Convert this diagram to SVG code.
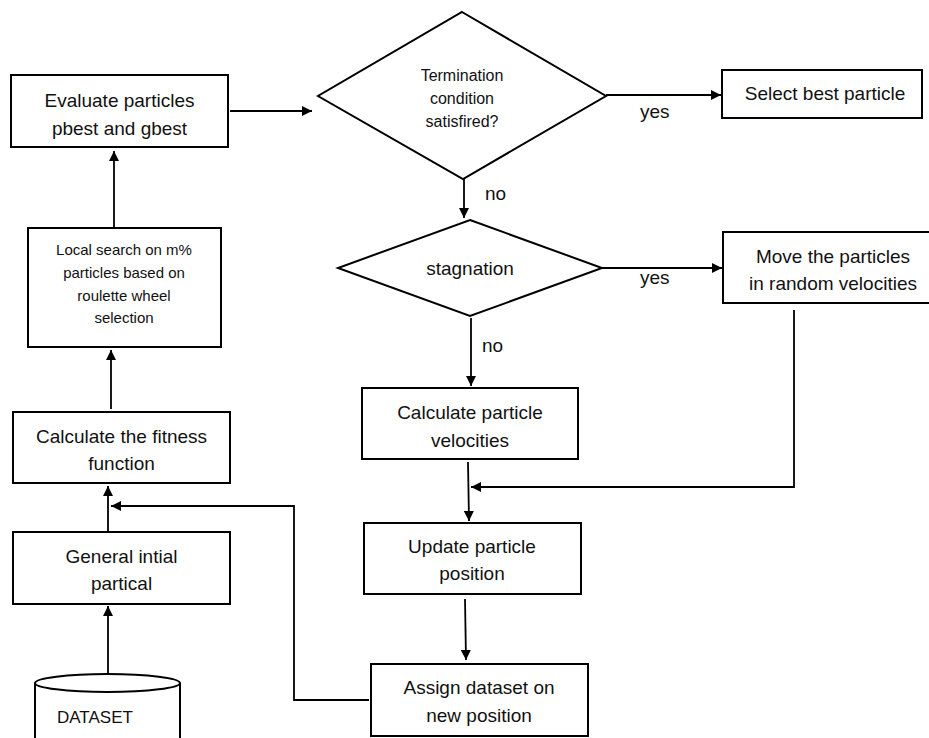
<svg xmlns="http://www.w3.org/2000/svg" width="929" height="738" viewBox="0 0 929 738">
<style>
  .box { fill: #fff; stroke: #000; stroke-width: 2; }
  .t { font-family: "Liberation Sans", Arial, sans-serif; font-size: 19px; fill: #111; text-anchor: middle; }
  .s { font-size: 15px; }
  .d { font-size: 16px; }
  .lbl { font-family: "Liberation Sans", Arial, sans-serif; font-size: 19px; fill: #111; }
  .c { fill: none; stroke: #000; stroke-width: 1.8; }
</style>
<defs>
  <marker id="ah" viewBox="0 0 10 10" refX="10" refY="5" markerWidth="11" markerHeight="10" markerUnits="userSpaceOnUse" orient="auto">
    <path d="M0,0 L10,5 L0,10 z" fill="#000"/>
  </marker>
</defs>
<rect width="929" height="738" fill="#fff"/>

<g id="connectors">
  <path class="c" d="M230,111 L312,111" marker-end="url(#ah)"/>
  <path class="c" d="M606,95 L721,95" marker-end="url(#ah)"/>
  <path class="c" d="M464,179 L464,218" marker-end="url(#ah)"/>
  <path class="c" d="M602,268 L722,268" marker-end="url(#ah)"/>
  <path class="c" d="M471,318 L471,386" marker-end="url(#ah)"/>
  <path class="c" d="M468,462 L469,521" marker-end="url(#ah)"/>
  <path class="c" d="M794,310 L794,487 L471,487" marker-end="url(#ah)"/>
  <path class="c" d="M465,599 L466,660" marker-end="url(#ah)"/>
  <path class="c" d="M369,700 L294,700 L294,506 L111,506" marker-end="url(#ah)"/>
  <path class="c" d="M108,675 L108,606" marker-end="url(#ah)"/>
  <path class="c" d="M108,532 L108,486" marker-end="url(#ah)"/>
  <path class="c" d="M111,409 L111,350" marker-end="url(#ah)"/>
  <path class="c" d="M114,228 L114,151" marker-end="url(#ah)"/>
  <text class="lbl" x="485" y="200">no</text>
  <text class="lbl" x="640" y="118">yes</text>
  <text class="lbl" x="640" y="284">yes</text>
  <text class="lbl" x="482" y="352">no</text>
</g>

<g id="evaluate">
  <rect class="box" x="11" y="75" width="217" height="72"/>
  <text class="t" x="119.5" y="107">Evaluate particles</text>
  <text class="t" x="119.5" y="135">pbest and gbest</text>
</g>

<g id="localsearch">
  <rect class="box" x="28" y="228" width="193" height="119"/>
  <text class="t s" x="124" y="255">Local search on m%</text>
  <text class="t s" x="124" y="278">particles based on</text>
  <text class="t s" x="124" y="301">roulette wheel</text>
  <text class="t s" x="124" y="323">selection</text>
</g>

<g id="fitness">
  <rect class="box" x="13" y="412" width="217" height="71"/>
  <text class="t" x="121.5" y="443">Calculate the fitness</text>
  <text class="t" x="121.5" y="470">function</text>
</g>

<g id="general">
  <rect class="box" x="13" y="532" width="217" height="72"/>
  <text class="t" x="121.5" y="563">General intial</text>
  <text class="t" x="121.5" y="590">partical</text>
</g>

<g id="dataset">
  <path class="box" d="M35,683 L35,745 L180,745 L180,683"/>
  <ellipse class="box" cx="107.5" cy="683" rx="72.5" ry="9"/>
  <text class="lbl" x="57" y="723" style="font-size:17px">DATASET</text>
</g>

<g id="termination">
  <polygon class="box" points="462,12 606,96 463,179 318,96"/>
  <text class="t d" x="462" y="81">Termination</text>
  <text class="t d" x="462" y="104">condition</text>
  <text class="t d" x="462" y="127">satisfired?</text>
</g>

<g id="selectbest">
  <rect class="box" x="722" y="70" width="200" height="48"/>
  <text class="t" x="825" y="100">Select best particle</text>
</g>

<g id="stagnation">
  <polygon class="box" points="470,220 602,268 470,316 338,268"/>
  <text class="t" x="470" y="275">stagnation</text>
</g>

<g id="moverandom">
  <rect class="box" x="723" y="232" width="210" height="71"/>
  <text class="t" x="833" y="263">Move the particles</text>
  <text class="t" x="833" y="290">in random velocities</text>
</g>

<g id="calcvel">
  <rect class="box" x="362" y="388" width="216" height="71"/>
  <text class="t" x="470" y="419">Calculate particle</text>
  <text class="t" x="470" y="447">velocities</text>
</g>

<g id="update">
  <rect class="box" x="364" y="523" width="217" height="71"/>
  <text class="t" x="472" y="553">Update particle</text>
  <text class="t" x="472" y="580">position</text>
</g>

<g id="assign">
  <rect class="box" x="371" y="664" width="217" height="72"/>
  <text class="t" x="479" y="694">Assign dataset on</text>
  <text class="t" x="479" y="722">new position</text>
</g>
</svg>
